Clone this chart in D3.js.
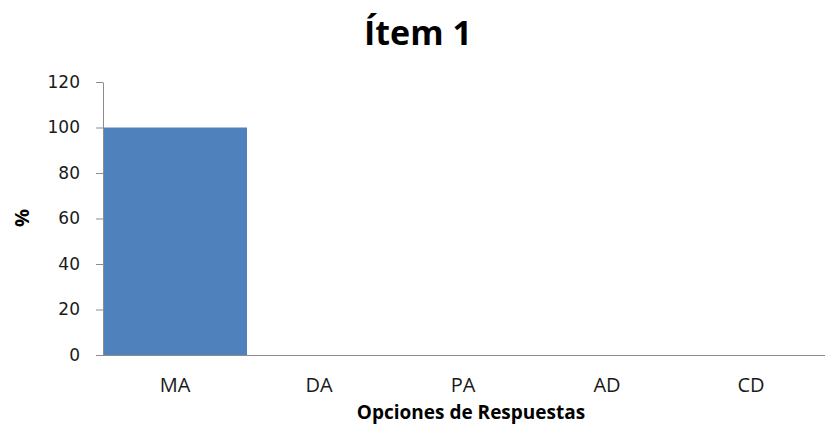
<!DOCTYPE html>
<html>
<head>
<meta charset="utf-8">
<script src="https://cdn.jsdelivr.net/npm/d3@7"></script>
<style>
  html, body { margin: 0; padding: 0; background: #fff; }
  svg { display: block; }
</style>
</head>
<body>
<script>
// Response options and their share (%)
const categories = ["MA", "DA", "PA", "AD", "CD"];
const values = [100, 0, 0, 0, 0];
const yTicks = [0, 20, 40, 60, 80, 100, 120];
const title = "Ítem 1";
const xTitle = "Opciones de Respuestas";
const yTitle = "%";

const W = 825, H = 426;
const margin = { top: 82, right: 2, bottom: 71, left: 103 };

const svg = d3.select("body").append("svg")
  .attr("width", W).attr("height", H);

const x = d3.scaleBand()
  .domain(categories)
  .range([margin.left, W - margin.right])
  .paddingInner(0).paddingOuter(0);

const y = d3.scaleLinear()
  .domain([0, 120])
  .range([H - margin.bottom, margin.top]);

// Bars
svg.append("g").selectAll("rect")
  .data(categories.map((c, i) => ({ c, v: values[i] })))
  .join("rect")
  .attr("x", d => x(d.c))
  .attr("width", x.bandwidth())
  .attr("y", d => y(d.v))
  .attr("height", d => y(0) - y(d.v))
  .attr("fill", "#4f81bd");

// Y axis
const yAxis = svg.append("g")
  .attr("transform", `translate(${margin.left},0)`)
  .call(d3.axisLeft(y).tickValues(yTicks).tickSize(7).tickPadding(16).tickSizeOuter(0));
yAxis.select(".domain").attr("stroke", "#8c8c8c");
yAxis.selectAll(".tick line").attr("stroke", "#8c8c8c");
yAxis.selectAll(".tick text")
  .attr("fill", "#1a1a1a")
  .style("font-family", "'DejaVu Sans', sans-serif")
  .style("font-size", "17px");

// X axis
const xAxis = svg.append("g")
  .attr("transform", `translate(0,${y(0)})`)
  .call(d3.axisBottom(x).tickSize(0).tickSizeOuter(0));
xAxis.select(".domain").attr("stroke", "#8c8c8c")
  .attr("d", `M${margin.left - 7},0.5H${W}`);
xAxis.selectAll(".tick text")
  .attr("y", 37).attr("dy", null)
  .attr("fill", "#1a1a1a")
  .style("font-family", "'Open Sans', sans-serif")
  .style("font-size", "20px");

// Titles
svg.append("text")
  .attr("x", 418).attr("y", 45)
  .attr("text-anchor", "middle")
  .style("font-family", "'Open Sans', sans-serif")
  .style("font-weight", "bold")
  .style("font-size", "34px")
  .attr("fill", "#000")
  .text(title);

svg.append("text")
  .attr("x", 471).attr("y", 419)
  .attr("text-anchor", "middle")
  .style("font-family", "'Open Sans', sans-serif")
  .style("font-weight", "bold")
  .style("font-size", "19px")
  .attr("fill", "#000")
  .text(xTitle);

svg.append("text")
  .attr("transform", "translate(29,218) rotate(-90)")
  .attr("text-anchor", "middle")
  .style("font-family", "'Open Sans', sans-serif")
  .style("font-weight", "bold")
  .style("font-size", "20px")
  .attr("fill", "#000")
  .text(yTitle);
</script>
</body>
</html>
